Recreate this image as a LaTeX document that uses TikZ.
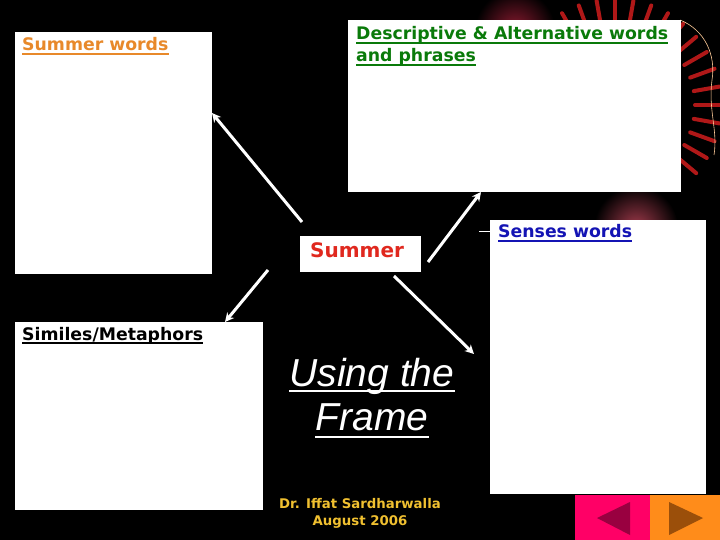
\documentclass[tikz,border=0pt]{standalone}
\usepackage{fontspec}
\setmainfont{DejaVu Sans}
\newfontfamily\arialfont{Liberation Sans}
\usetikzlibrary{arrows.meta,shadings}
\definecolor{orangetxt}{HTML}{E8892A}
\definecolor{greentxt}{HTML}{0A7A0A}
\definecolor{bluetxt}{HTML}{1414B4}
\definecolor{redtxt}{HTML}{E0281E}
\definecolor{yellowtxt}{HTML}{F0C030}
\definecolor{navpink}{HTML}{FF0066}
\definecolor{navpinkdark}{HTML}{990040}
\definecolor{navorange}{HTML}{FF8C1A}
\definecolor{navbrown}{HTML}{9B4F0A}
\definecolor{deepred}{HTML}{B01818}
\definecolor{glow}{HTML}{8C1A30}
\tikzset{
  panel/.style={fill=white, draw=none, inner sep=0pt, anchor=north west},
  lbl/.style={anchor=base west, inner sep=0pt, font=\bfseries\fontsize{17.3bp}{22bp}\selectfont},
  big/.style={anchor=base, inner sep=0pt, text=white, font=\arialfont\itshape\fontsize{39bp}{48bp}\selectfont},
  auth/.style={anchor=base, inner sep=0pt, text=yellowtxt, font=\bfseries\fontsize{13.3bp}{17bp}\selectfont},
  arr/.style={draw=white, line width=3bp, -{Stealth[length=9bp,width=9bp]}},
  streak/.style={draw=deepred, line width=4bp, line cap=round},
  ul/.style={line width=1.8bp},
}
\newcommand\ulnode[2]{\draw[ul,#2] ([yshift=-2.8bp]#1.base west) -- ([yshift=-2.8bp]#1.base east);}
\begin{document}
\begin{tikzpicture}[x=1bp,y=-1bp]
\useasboundingbox (0,0) rectangle (720,540);
\fill[black] (0,0) rectangle (720,540);
% background decoration
\shade[inner color=glow, outer color=black] (515,30) circle (40);
\shade[inner color=glow!80!pink, outer color=black] (636,228) circle (42);
\foreach \a in {-150,-140,...,40}{
  \draw[streak] (615,105) ++(\a:80) -- ++(\a:26);
}
\draw[draw=orange!40!white, line width=0.6bp]
  (680,20) .. controls (705,30) and (716,55) .. (712,80)
  .. controls (708,110) and (718,130) .. (714,155);
% panels
\node[panel, minimum width=197bp, minimum height=242bp] (sw) at (15,32) {};
\node[panel, minimum width=333bp, minimum height=172bp] (desc) at (348,20) {};
\node[panel, minimum width=121bp, minimum height=36bp] (sum) at (300,236) {};
\node[panel, minimum width=216bp, minimum height=274bp] (sens) at (490,220) {};
\node[panel, minimum width=248bp, minimum height=188bp] (sim) at (15,322) {};
\draw[white, line width=1bp] (479,232) -- (490,232);
% labels
\node[lbl, text=orangetxt] (tsw) at (22,51) {Summer words};
\ulnode{tsw}{orangetxt}
\node[lbl, text=greentxt] (tdesc1) at (356,40) {Descriptive \& Alternative words};
\ulnode{tdesc1}{greentxt}
\node[lbl, text=greentxt] (tdesc2) at (356,62) {and phrases};
\ulnode{tdesc2}{greentxt}
\node[lbl, text=redtxt, font=\bfseries\fontsize{20bp}{24bp}\selectfont] (tsum) at (310,258) {Summer};
\node[lbl, text=bluetxt] (tsens) at (498,238) {Senses words};
\ulnode{tsens}{bluetxt}
\node[lbl, text=black] (tsim) at (22,340) {Similes/Metaphors};
\ulnode{tsim}{black}
\node[big] (frame1) at (372,386) {Using the};
\draw[ul, white, line width=2.4bp] ([yshift=-5bp]frame1.base west) -- ([yshift=-5bp]frame1.base east);
\node[big] (frame2) at (372,430) {Frame};
\draw[ul, white, line width=2.4bp] ([yshift=-7bp]frame2.base west) -- ([yshift=-7bp]frame2.base east);
\node[auth] (auth1) at (360,508) {Dr. Iffat Sardharwalla};
\node[auth] (auth2) at (360,525) {August 2006};
% arrows
\coordinate (s1) at (302,222);
\coordinate (e1) at (212,113);
\coordinate (s2) at (268,270);
\coordinate (e2) at (225,322);
\coordinate (s3) at (428,262);
\coordinate (e3) at (481,192);
\coordinate (s4) at (394,276);
\coordinate (e4) at (474,354);
\draw[arr] (s1) -- (e1);
\draw[arr] (s2) -- (e2);
\draw[arr] (s3) -- (e3);
\draw[arr] (s4) -- (e4);
% navigation buttons
\node[fill=navpink, draw=none, inner sep=0pt, anchor=north west,
  minimum width=75bp, minimum height=45bp] (back) at (575,495) {};
\node[fill=navorange, draw=none, inner sep=0pt, anchor=north west,
  minimum width=70bp, minimum height=45bp] (fwd) at (650,495) {};
\fill[navpinkdark] (597,518) -- (630,502) -- (630,535) -- cycle;
\fill[navbrown] (669,502) -- (703,518) -- (669,535) -- cycle;
\end{tikzpicture}
\end{document}
